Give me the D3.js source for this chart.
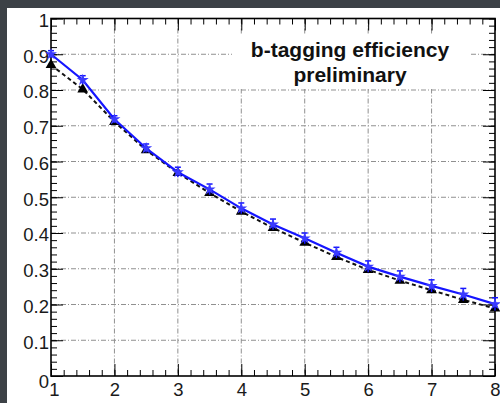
<!DOCTYPE html>
<html>
<head>
<meta charset="utf-8">
<script src="https://cdn.jsdelivr.net/npm/d3@7"></script>
<style>
  html, body { margin: 0; padding: 0; background: #3c4146; }
  svg { display: block; }
  text { font-family: "Liberation Sans", Arial, Helvetica, sans-serif; }
</style>
</head>
<body>
<svg id="chart" width="500" height="403"></svg>
<script>
// Jet pT bins (x) and b-tagging efficiency for the two curves
const xValues   = [1, 1.5, 2, 2.5, 3, 3.5, 4, 4.5, 5, 5.5, 6, 6.5, 7, 7.5, 8];
const effBlack  = [0.870, 0.802, 0.711, 0.632, 0.568, 0.512, 0.460, 0.414, 0.373, 0.333, 0.297, 0.267, 0.240, 0.213, 0.189];
const effBlue   = [0.900, 0.828, 0.718, 0.637, 0.570, 0.522, 0.469, 0.424, 0.385, 0.345, 0.306, 0.278, 0.252, 0.228, 0.201];
const errBlue   = [0.010, 0.012, 0.010, 0.012, 0.014, 0.015, 0.015, 0.015, 0.015, 0.015, 0.016, 0.016, 0.017, 0.017, 0.018];
const xTickVals = [1, 2, 3, 4, 5, 6, 7, 8];
const yTickVals = [0, 0.1, 0.2, 0.3, 0.4, 0.5, 0.6, 0.7, 0.8, 0.9, 1];
const yTickText = ["0", "0.1", "0.2", "0.3", "0.4", "0.5", "0.6", "0.7", "0.8", "0.9", "1"];
const titleLines = ["b-tagging efficiency", "preliminary"];

const svg = d3.select("#chart");
const frameL = 51, frameR = 495, frameT = 18.5, frameB = 376;

// white canvas pad
svg.append("rect").attr("x", 7).attr("y", 8).attr("width", 493).attr("height", 395).attr("fill", "#ffffff");

const x = d3.scaleLinear().domain([1, 8]).range([frameL, frameR]);
const y = d3.scaleLinear().domain([0, 1]).range([frameB, frameT]);

// dash-dot grid
const grid = svg.append("g").attr("stroke", "#909090").attr("stroke-width", 1)
  .attr("stroke-dasharray", "5,2,1,2").attr("fill", "none");
grid.selectAll("line.gx").data(xTickVals.slice(1, -1)).join("line").attr("class", "gx")
  .attr("x1", d => x(d)).attr("x2", d => x(d)).attr("y1", frameT).attr("y2", frameB);
grid.selectAll("line.gy").data(yTickVals.slice(1, -1)).join("line").attr("class", "gy")
  .attr("x1", frameL).attr("x2", frameR).attr("y1", d => y(d)).attr("y2", d => y(d));

// axes with inward ticks on all four sides
const xMinor = d3.range(1, 8.001, 0.2).map(v => +v.toFixed(2));
const yMinor = d3.range(0, 1.0001, 0.02).map(v => +v.toFixed(3));

function styleAxis(g) {
  g.select(".domain").remove();
  g.selectAll(".tick line").attr("stroke", "#000").attr("stroke-width", 1);
}

svg.append("g").attr("transform", `translate(0,${frameB})`)
  .call(d3.axisBottom(x).tickValues(xMinor).tickSizeInner(-6).tickSizeOuter(0).tickFormat(""))
  .call(styleAxis);
svg.append("g").attr("transform", `translate(0,${frameT})`)
  .call(d3.axisTop(x).tickValues(xMinor).tickSizeInner(-6).tickSizeOuter(0).tickFormat(""))
  .call(styleAxis);
svg.append("g").attr("transform", `translate(${frameL},0)`)
  .call(d3.axisLeft(y).tickValues(yMinor).tickSizeInner(-6).tickSizeOuter(0).tickFormat(""))
  .call(styleAxis);
svg.append("g").attr("transform", `translate(${frameR},0)`)
  .call(d3.axisRight(y).tickValues(yMinor).tickSizeInner(-6).tickSizeOuter(0).tickFormat(""))
  .call(styleAxis);

const xAxis = svg.append("g").attr("transform", `translate(0,${frameB})`)
  .call(d3.axisBottom(x).tickValues(xTickVals).tickSizeInner(-12).tickSizeOuter(0).tickPadding(7).tickFormat(d3.format("d")))
  .call(styleAxis);
xAxis.selectAll("text").attr("font-size", 18.5).attr("fill", "#1a1a1a");
xAxis.selectAll(".tick").filter(d => d === 1).select("text").attr("dx", 3);

svg.append("g").attr("transform", `translate(0,${frameT})`)
  .call(d3.axisTop(x).tickValues(xTickVals).tickSizeInner(-12).tickSizeOuter(0).tickFormat(""))
  .call(styleAxis);

const yAxis = svg.append("g").attr("transform", `translate(${frameL},0)`)
  .call(d3.axisLeft(y).tickValues(yTickVals).tickSizeInner(-12).tickSizeOuter(0).tickPadding(2)
    .tickFormat((d, i) => yTickText[i]))
  .call(styleAxis);
yAxis.selectAll("text").attr("font-size", 18.5).attr("fill", "#1a1a1a").attr("dy", "0.42em");
yAxis.selectAll(".tick").filter(d => d === 0).select("text").attr("dy", "0.6em");

svg.append("g").attr("transform", `translate(${frameR},0)`)
  .call(d3.axisRight(y).tickValues(yTickVals).tickSizeInner(-12).tickSizeOuter(0).tickFormat(""))
  .call(styleAxis);

// frame
svg.append("rect").attr("x", frameL).attr("y", frameT).attr("width", frameR - frameL).attr("height", frameB - frameT)
  .attr("fill", "none").attr("stroke", "#000").attr("stroke-width", 1.6);

// title box
const tb = svg.append("g");
tb.append("rect").attr("x", 232).attr("y", 35).attr("width", 238).attr("height", 54).attr("fill", "#fff");
tb.selectAll("text").data(titleLines).join("text")
  .attr("x", 350).attr("y", (d, i) => 57 + i * 25)
  .attr("text-anchor", "middle").attr("font-size", 21).attr("font-weight", "bold").attr("fill", "#111")
  .text(d => d);

const blackPts = xValues.map((v, i) => [v, effBlack[i]]);
const bluePts  = xValues.map((v, i) => [v, effBlue[i], errBlue[i]]);
const line = d3.line().x(d => x(d[0])).y(d => y(d[1]));

// black dashed curve with triangles
svg.append("path").datum(blackPts).attr("d", line).attr("fill", "none")
  .attr("stroke", "#111").attr("stroke-width", 2).attr("stroke-dasharray", "4,3");
svg.append("g").selectAll("path").data(blackPts).join("path")
  .attr("transform", d => `translate(${x(d[0])},${y(d[1])})`)
  .attr("d", d3.symbol(d3.symbolTriangle, 50)).attr("fill", "#000");

// blue solid curve with error bars and stars
svg.append("path").datum(bluePts).attr("d", line).attr("fill", "none")
  .attr("stroke", "#1515ff").attr("stroke-width", 2.2);
const eb = svg.append("g").attr("stroke", "#1515ff").attr("stroke-width", 1.5);
eb.selectAll("line.v").data(bluePts).join("line").attr("class", "v")
  .attr("x1", d => x(d[0])).attr("x2", d => x(d[0]))
  .attr("y1", d => y(d[1] - d[2])).attr("y2", d => y(d[1] + d[2]));
eb.selectAll("line.t").data(bluePts).join("line").attr("class", "t")
  .attr("x1", d => x(d[0]) - 3).attr("x2", d => x(d[0]) + 3)
  .attr("y1", d => y(d[1] + d[2])).attr("y2", d => y(d[1] + d[2]));
svg.append("g").selectAll("path").data(bluePts).join("path")
  .attr("transform", d => `translate(${x(d[0])},${y(d[1])})`)
  .attr("d", d3.symbol(d3.symbolStar, 45)).attr("fill", "#3a3aff");
</script>
</body>
</html>
